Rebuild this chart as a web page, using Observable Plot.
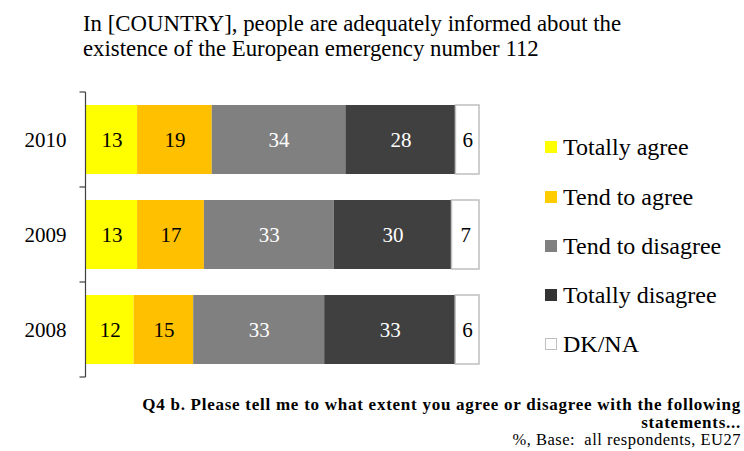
<!DOCTYPE html>
<html>
<head>
<meta charset="utf-8">
<script src="https://cdn.jsdelivr.net/npm/d3@7"></script>
<script src="https://cdn.jsdelivr.net/npm/@observablehq/plot@0.6"></script>
<style>
  body { margin: 0; background: #fff; }
  #wrap { position: relative; width: 744px; height: 451px; overflow: hidden; font-family: "Liberation Serif", serif; color: #000; }
  #wrap svg { position: absolute; left: 0; top: 0; }
  #title { position: absolute; left: 83px; top: 12px; font-size: 22.8px; line-height: 24.5px; white-space: nowrap; }
  #legend { position: absolute; left: 545px; top: 0; }
  .li { position: absolute; left: 0; display: flex; align-items: center; white-space: nowrap; font-size: 24px; height: 30px; }
  .sw { width: 12px; height: 12px; margin-right: 6px; box-sizing: border-box; }
  #caption { position: absolute; right: 3px; top: 396px; text-align: right; font-family: "Liberation Serif", serif; }
  #caption b { display: block; font-size: 17px; line-height: 17.5px; letter-spacing: 0.74px; }
  #caption span { display: block; font-size: 16.5px; line-height: 18px; letter-spacing: 0.5px; }
</style>
</head>
<body>
<div id="wrap">
  <div id="title">In [COUNTRY], people are adequately informed about the<br>existence of the European emergency number 112</div>
  <div id="legend"></div>
  <div id="caption"><b>Q4 b. Please tell me to what extent you agree or disagree with the following<br>statements...</b><span>%, Base:&nbsp; all respondents, EU27</span></div>
</div>
<script>
const years = ["2010", "2009", "2008"];
const categories = ["Totally agree", "Tend to agree", "Tend to disagree", "Totally disagree", "DK/NA"];
const colors = ["#FFFF00", "#FFC000", "#808080", "#404040", "#FFFFFF"];
const legendColors = ["#FFFF00", "#FFCC00", "#808080", "#333333", "#FFFFFF"];
const totallyAgree = [13, 13, 12];
const tendToAgree = [19, 17, 15];
const tendToDisagree = [34, 33, 33];
const totallyDisagree = [28, 30, 33];
const dkna = [6, 7, 6];
const darkCats = ["Tend to disagree", "Totally disagree"];

const series = [totallyAgree, tendToAgree, tendToDisagree, totallyDisagree, dkna];
const data = [];
years.forEach((y, i) => categories.forEach((c, j) => data.push({year: y, cat: c, value: series[j][i]})));

const stack = (extra) => Plot.stackX({offset: "normalize", x: "value", y: "year", z: "cat", order: categories, ...extra});

const chart = Plot.plot({
  width: 744,
  height: 451,
  marginLeft: 86,
  marginRight: 265,
  marginTop: 92,
  marginBottom: 74,
  style: {fontFamily: "Liberation Serif, serif", background: "transparent"},
  x: {domain: [0, 1], axis: null},
  y: {domain: years, padding: 0, label: null},
  color: {domain: categories, range: colors},
  marks: [
    Plot.axisY({tickSize: 0, tickPadding: 20, fontSize: 21, label: null, anchor: "left"}),
    Plot.barX(data, stack({
      fill: "cat",
      stroke: "#BFBFBF",
      strokeWidth: 1.5,
      strokeOpacity: d => d.cat === "DK/NA" ? 1 : 0,
      insetTop: 13, insetBottom: 13
    })),
    Plot.textX(data, stack({
      text: d => darkCats.includes(d.cat) ? null : String(d.value),
      fill: "black", fontSize: 21
    })),
    Plot.textX(data, stack({
      text: d => darkCats.includes(d.cat) ? String(d.value) : null,
      fill: "white", fontSize: 21
    })),
    // axis line with ticks at band boundaries
    (index, scales, values, dims) => {
      const g = d3.create("svg:g").attr("stroke", "#404040").attr("stroke-width", 1.2).attr("fill", "none");
      const x0 = dims.marginLeft - 0.5;
      const bw = scales.y.bandwidth ? scales.y.bandwidth() : 0;
      const edges = [scales.y(years[0])];
      years.forEach(y => edges.push(scales.y(y) + bw));
      g.append("line").attr("x1", x0).attr("x2", x0).attr("y1", edges[0]).attr("y2", edges[edges.length - 1]);
      edges.forEach(e => g.append("line").attr("x1", x0 - 6).attr("x2", x0).attr("y1", e).attr("y2", e));
      return g.node();
    }
  ]
});
document.getElementById("wrap").prepend(chart);

const legend = document.getElementById("legend");
const rowCenters = [147, 197, 246, 295, 344];
categories.forEach((c, i) => {
  const row = document.createElement("div");
  row.className = "li";
  row.style.top = (rowCenters[i] - 15) + "px";
  const sw = document.createElement("div");
  sw.className = "sw";
  sw.style.background = legendColors[i];
  if (c === "DK/NA") sw.style.border = "1px solid #BFBFBF";
  const t = document.createElement("span");
  t.textContent = c;
  row.append(sw, t);
  legend.append(row);
});
</script>
</body>
</html>
